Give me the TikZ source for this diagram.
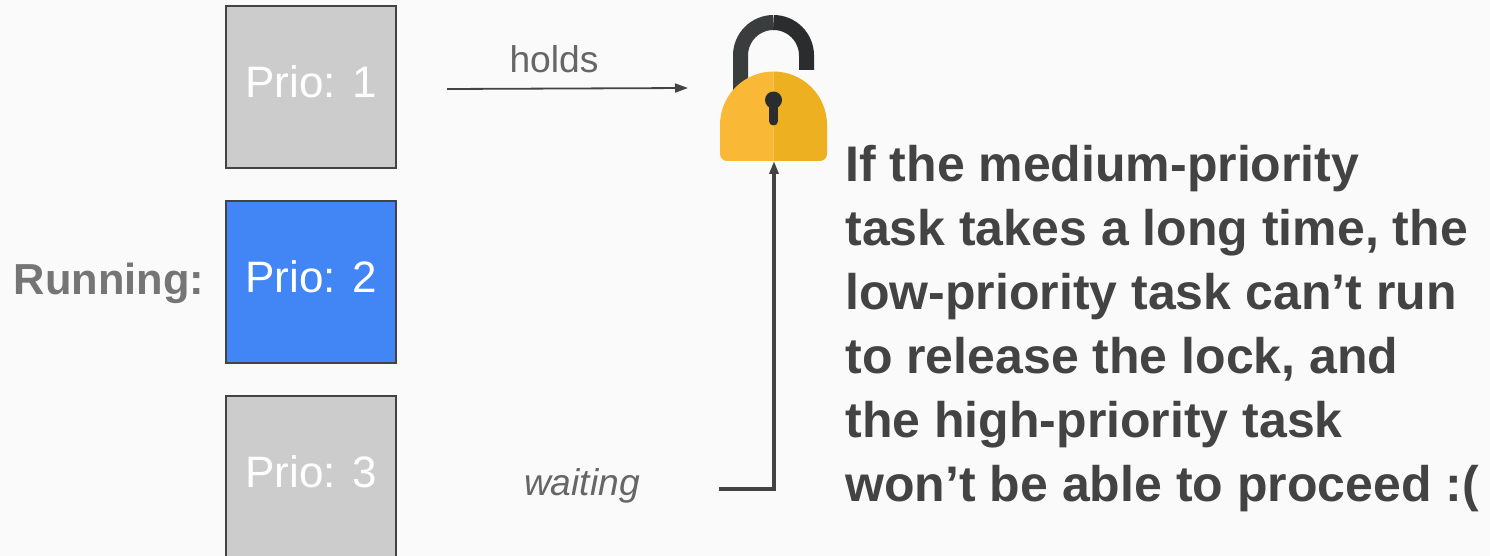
\documentclass[tikz,border=0pt]{standalone}
\usepackage{fontspec}
\setmainfont{Liberation Sans}
\usetikzlibrary{arrows.meta}
\definecolor{pagebg}{HTML}{FAFAFA}
\definecolor{boxgray}{HTML}{CCCCCC}
\definecolor{boxblue}{HTML}{4285F4}
\definecolor{linegray}{HTML}{434343}
\definecolor{lockleft}{HTML}{F9B937}
\definecolor{lockright}{HTML}{EDB021}
\definecolor{shackleleft}{HTML}{393D3D}
\definecolor{shackleright}{HTML}{2A2C2E}
\tikzset{
    priobox/.style={draw=linegray, line width=1pt, fill=boxgray, minimum width=85pt, minimum height=81pt,
        inner sep=0pt, text=white, text depth=5pt, font=\fontsize{22}{22}\selectfont},
    runbox/.style={priobox, fill=boxblue},
    sidelabel/.style={text=black!60, font=\fontsize{18.6}{18.6}\selectfont, inner sep=0pt},
    thinarrow/.style={draw=linegray, line width=0.9pt, -{Stealth[length=6.5pt,width=4.5pt,inset=0pt]}},
    thickarrow/.style={thinarrow, line width=2pt}
}
\begin{document}
\begin{tikzpicture}[x=0.5pt, y=-0.5pt]
    % page
    \fill [pagebg] (0, 0) rectangle (1490, 556);
    \useasboundingbox (0, 0) rectangle (1490, 556);
    \clip (0, 0) rectangle (1490, 556);
    % task boxes
    \node [priobox] (high) at (311, 87) {Prio: 1};
    \node [runbox]  (medium) at (311, 282) {Prio: 2};
    \node [priobox] (low) at (311, 477) {Prio: 3};
    % labels
    \node [text=black!54, font=\fontsize{21.7}{21.7}\selectfont\bfseries, inner sep=0pt] (running) at (109, 283) {Running:};
    \node [sidelabel] (holds) at (554, 59) {holds};
    \node [sidelabel, font=\fontsize{18.6}{18.6}\selectfont\itshape] (waiting) at (582, 486) {waiting};
    % shackle
    \draw [shackleleft, line width=7.5pt] (740.5, 95) -- (740.5, 55.5) arc (180:270:33);
    \draw [shackleright, line width=7.5pt] (773.5, 22.5) arc (270:360:33) -- (806.5, 70);
    % lock body
    \fill [lockleft] (773.5, 161) -- (727, 161) arc (90:180:7) -- (720, 125) arc (180:270:53.5) -- cycle;
    \fill [lockright] (773.5, 161) -- (820, 161) arc (90:0:7) -- (827, 125) arc (0:-90:53.5) -- cycle;
    % keyhole
    \fill [shackleright] (773.5, 100) circle [radius=8.5];
    \draw [shackleright, line width=4.5pt, line cap=round] (773.5, 100) -- (773.5, 121);
    % arrows
    \coordinate (holdsstart) at (447, 89);
    \coordinate (holdsend) at (688, 88);
    \coordinate (waitstart) at (719, 489);
    \coordinate (waitcorner) at (774, 489);
    \coordinate (lockbottom) at (774, 161);
    \draw [thinarrow] (holdsstart) -- (holdsend);
    \draw [thickarrow] (waitstart) -- (waitcorner) -- (lockbottom);
    % explanation
    \node [anchor=north west, align=left, inner sep=0pt, text=linegray,
        font=\fontsize{25}{32}\selectfont\bfseries] (note) at (845, 145)
        {If the medium-priority\\task takes a long time, the\\low-priority task can’t run\\to release the lock, and\\the high-priority task\\won’t be able to proceed :(};
\end{tikzpicture}
\end{document}
